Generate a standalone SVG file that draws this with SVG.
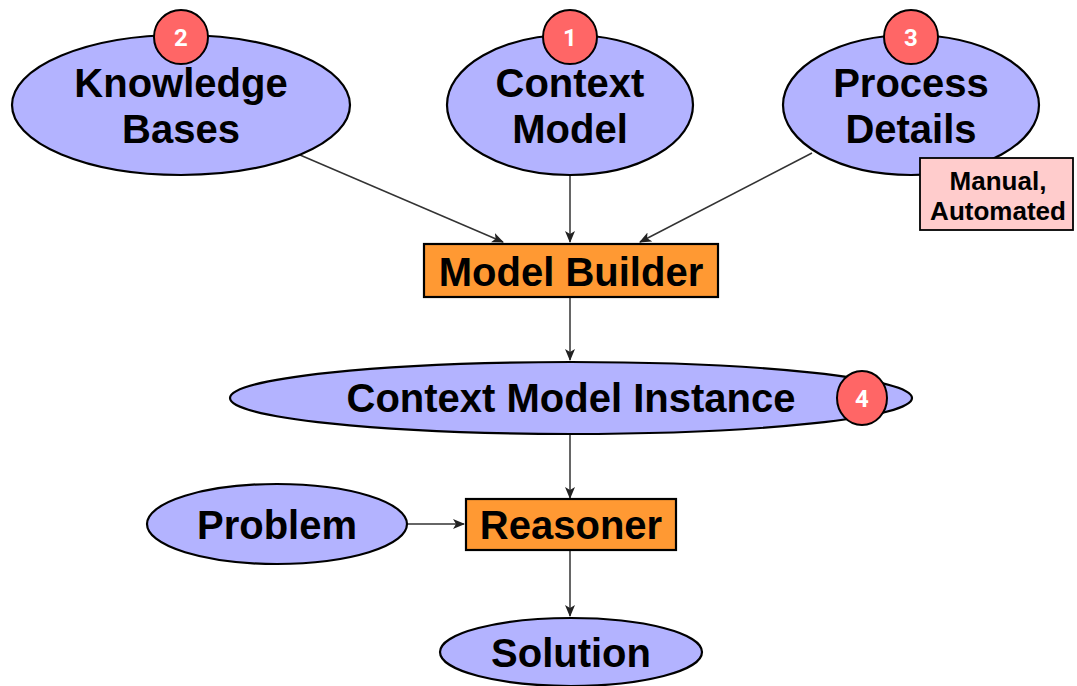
<svg xmlns="http://www.w3.org/2000/svg" width="1077" height="686" viewBox="0 0 1077 686">
<style>
.ell{fill:#b3b3ff;stroke:#000;stroke-width:2.2}
.box{fill:#ff9933;stroke:#000;stroke-width:2.2}
.note{fill:#ffcccc;stroke:#000;stroke-width:1.8}
.badge{fill:#ff6666;stroke:#000;stroke-width:2}
.t{font-family:"Liberation Sans",Arial,sans-serif;font-weight:bold;font-size:40px;fill:#000;text-anchor:middle}
.n{font-family:"Liberation Sans",Arial,sans-serif;font-weight:bold;font-size:26px;fill:#000;text-anchor:middle}
.b{font-family:Roboto,"Liberation Sans",sans-serif;font-weight:bold;font-size:24px;fill:#fff;text-anchor:middle}
.c{fill:none;stroke:#333;stroke-width:1.5;marker-end:url(#ah)}
</style>
<defs>
<marker id="ah" viewBox="0 0 12 10" refX="11" refY="5" markerWidth="12" markerHeight="10" markerUnits="userSpaceOnUse" orient="auto">
<path d="M0,0 L12,5 L0,10 L3,5 Z" fill="#222"/>
</marker>
</defs>
<rect width="1077" height="686" fill="#fff"/>
<g id="connectors">
<line class="c" x1="300" y1="155" x2="503" y2="242"/>
<line class="c" x1="570" y1="175" x2="570" y2="242"/>
<line class="c" x1="812" y1="153" x2="640" y2="242"/>
<line class="c" x1="570" y1="297" x2="570" y2="360"/>
<line class="c" x1="570" y1="434" x2="570" y2="498"/>
<line class="c" x1="408" y1="524" x2="464" y2="524"/>
<line class="c" x1="570" y1="550" x2="570" y2="616"/>
</g>
<g id="knowledge-bases">
<ellipse class="ell" cx="181" cy="105" rx="169" ry="70"/>
<text class="t" x="181" y="97">Knowledge</text>
<text class="t" x="181" y="143">Bases</text>
</g>
<g id="badge-2">
<circle class="badge" cx="181" cy="37" r="27"/>
<text class="b" x="181" y="46">2</text>
</g>
<g id="context-model">
<ellipse class="ell" cx="570" cy="105" rx="123" ry="70"/>
<text class="t" x="570" y="97">Context</text>
<text class="t" x="570" y="143">Model</text>
</g>
<g id="badge-1">
<circle class="badge" cx="570" cy="37" r="27"/>
<text class="b" x="570" y="46">1</text>
</g>
<g id="process-details">
<ellipse class="ell" cx="911" cy="105" rx="128" ry="70"/>
<text class="t" x="911" y="97">Process</text>
<text class="t" x="911" y="143">Details</text>
</g>
<g id="badge-3">
<circle class="badge" cx="911" cy="37" r="27"/>
<text class="b" x="911" y="46">3</text>
</g>
<g id="manual-automated">
<rect class="note" x="920" y="158" width="153" height="72"/>
<text class="n" x="998" y="190">Manual,</text>
<text class="n" x="998" y="220">Automated</text>
</g>
<g id="model-builder">
<rect class="box" x="424" y="244" width="294" height="53"/>
<text class="t" x="571" y="286">Model Builder</text>
</g>
<g id="context-model-instance">
<ellipse class="ell" cx="571" cy="398" rx="341" ry="36"/>
<text class="t" x="571" y="412">Context Model Instance</text>
</g>
<g id="badge-4">
<ellipse class="badge" cx="862" cy="398" rx="25" ry="27"/>
<text class="b" x="862" y="407">4</text>
</g>
<g id="problem">
<ellipse class="ell" cx="277" cy="524" rx="130" ry="40"/>
<text class="t" x="277" y="539">Problem</text>
</g>
<g id="reasoner">
<rect class="box" x="466" y="499" width="210" height="51"/>
<text class="t" x="571" y="539">Reasoner</text>
</g>
<g id="solution">
<ellipse class="ell" cx="571" cy="652" rx="131" ry="34"/>
<text class="t" x="571" y="667">Solution</text>
</g>
</svg>
